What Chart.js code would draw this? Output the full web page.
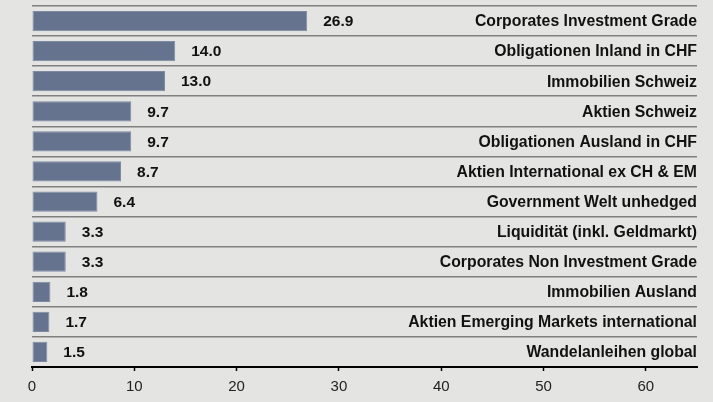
<!DOCTYPE html>
<html>
<head>
<meta charset="utf-8">
<script src="https://cdn.jsdelivr.net/npm/chart.js@4"></script>
<style>
    html, body { margin: 0; padding: 0; background: #e4e4e3; }
    #wrap { width: 713px; height: 402px; position: relative; }
</style>
</head>
<body>
<div id="wrap"><canvas id="allocChart"></canvas></div>
<script>
    const categories = [
        'Corporates Investment Grade',
        'Obligationen Inland in CHF',
        'Immobilien Schweiz',
        'Aktien Schweiz',
        'Obligationen Ausland in CHF',
        'Aktien International ex CH & EM',
        'Government Welt unhedged',
        'Liquidität (inkl. Geldmarkt)',
        'Corporates Non Investment Grade',
        'Immobilien Ausland',
        'Aktien Emerging Markets international',
        'Wandelanleihen global'
    ];
    const shares = [26.9, 14.0, 13.0, 9.7, 9.7, 8.7, 6.4, 3.3, 3.3, 1.8, 1.7, 1.5];
    const xTicks = [0, 10, 20, 30, 40, 50, 60];

    const font = '"Liberation Sans", Arial, sans-serif';

    // value labels after each bar + category names on the right edge
    const labelPlugin = {
        id: 'labels',
        afterDatasetsDraw(chart) {
            const ctx = chart.ctx;
            const meta = chart.getDatasetMeta(0);
            const area = chart.chartArea;
            ctx.save();
            ctx.fillStyle = '#111';
            ctx.textBaseline = 'middle';
            meta.data.forEach((bar, i) => {
                ctx.font = 'bold 15.5px ' + font;
                ctx.textAlign = 'left';
                ctx.fillText(shares[i].toFixed(1), bar.x + 16, bar.y + 1);
                ctx.font = 'bold 15.8px ' + font;
                ctx.textAlign = 'right';
                ctx.fillText(categories[i], area.right, bar.y + 1);
            });
            ctx.restore();
        }
    };

    new Chart(document.getElementById('allocChart'), {
        type: 'bar',
        data: {
            labels: categories,
            datasets: [{
                data: shares,
                backgroundColor: '#66738f',
                borderColor: '#7f8ba4',
                borderWidth: 1,
                borderSkipped: false,
                categoryPercentage: 0.7,
                barPercentage: 0.96
            }]
        },
        options: {
            indexAxis: 'y',
            responsive: true,
            maintainAspectRatio: false,
            animation: false,
            layout: {padding: {left: 32, right: 16, top: 6, bottom: 0}},
            plugins: {legend: {display: false}, tooltip: {enabled: false}},
            scales: {
                x: {
                    min: 0,
                    max: 65,
                    afterBuildTicks: (s) => { s.ticks = xTicks.map(v => ({value: v})); },
                    afterFit: (s) => { s.height = 35; },
                    border: {display: true, color: '#000', width: 2},
                    grid: {drawOnChartArea: false, drawTicks: true, tickLength: 4, tickColor: '#000', tickWidth: 1.5},
                    ticks: {color: '#222', font: {family: font, size: 15}, padding: 7}
                },
                y: {
                    afterFit: (s) => { s.width = 0; },
                    border: {display: false},
                    grid: {offset: true, drawTicks: false, color: '#808080', lineWidth: 1.6},
                    ticks: {display: false}
                }
            }
        },
        plugins: [labelPlugin]
    });
</script>
</body>
</html>
